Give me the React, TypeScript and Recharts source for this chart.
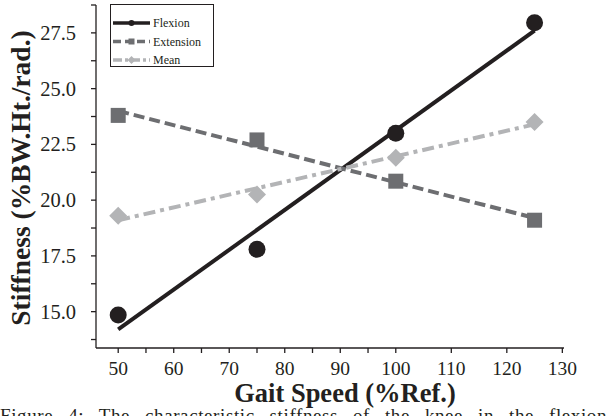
import { ComposedChart, Line, Scatter, XAxis, YAxis, Legend } from "recharts"

const speeds = [50, 75, 100, 125]
const flexion = [14.85, 17.8, 23.0, 27.95]
const extension = [23.8, 22.7, 20.85, 19.1]
const mean = [19.3, 20.25, 21.9, 23.5]

const fitSpeeds = [50, 125]
const flexionFit = [14.2, 27.6]
const extensionFit = [24.0, 19.2]
const meanFit = [19.1, 23.4]

const seriesNames = ["Flexion", "Extension", "Mean"]

const xTicks = [50, 55, 60, 65, 70, 75, 80, 85, 90, 95, 100, 105, 110, 115, 120, 125, 130]
const xLabels = [50, 60, 70, 80, 90, 100, 110, 120, 130]
const yTicks = [13.75, 15, 16.25, 17.5, 18.75, 20, 21.25, 22.5, 23.75, 25, 26.25, 27.5, 28.75]
const yLabels = [15, 17.5, 20, 22.5, 25, 27.5]

const FONT = '"Liberation Serif", "Times New Roman", serif'
const INK = "#231f20"
const C_FLEX = "#231f20"
const C_EXT = "#6d6e71"
const C_MEAN = "#b3b4b6"

const toPoints = (xs: number[], ys: number[]) => xs.map((x, i) => ({ x, y: ys[i] }))

const flexPts = toPoints(speeds, flexion)
const extPts = toPoints(speeds, extension)
const meanPts = toPoints(speeds, mean)
const flexFitPts = toPoints(fitSpeeds, flexionFit)
const extFitPts = toPoints(fitSpeeds, extensionFit)
const meanFitPts = toPoints(fitSpeeds, meanFit)

function CircleDot({ cx, cy }: any) {
  return <circle cx={cx} cy={cy} r={8.5} fill={C_FLEX} />
}

function SquareDot({ cx, cy }: any) {
  return <rect x={cx - 7.5} y={cy - 7.5} width={15} height={15} fill={C_EXT} />
}

function DiamondDot({ cx, cy }: any) {
  const r = 9
  return <polygon points={`${cx},${cy - r} ${cx + r},${cy} ${cx},${cy + r} ${cx - r},${cy}`} fill={C_MEAN} />
}

function XTick({ x, y, payload }: any) {
  if (!xLabels.includes(payload.value)) return null
  return (
    <text x={x} y={y + 19.5} textAnchor="middle" fontSize={19.5} fontFamily={FONT} fill={INK}>
      {payload.value}
    </text>
  )
}

function YTick({ x, y, payload }: any) {
  if (!yLabels.includes(payload.value)) return null
  return (
    <text x={x} y={y + 7} textAnchor="end" fontSize={20.5} fontFamily={FONT} fill={INK}>
      {payload.value.toFixed(1)}
    </text>
  )
}

function LegendBox() {
  const rows = [
    { color: C_FLEX, dash: undefined, mark: "circle" },
    { color: C_EXT, dash: "8 4", mark: "square" },
    { color: C_MEAN, dash: "9 3 3 3", mark: "diamond" },
  ]
  return (
    <svg width={104} height={63} style={{ display: "block" }}>
      <rect x={0.5} y={0.5} width={103} height={62} fill="#fff" stroke={INK} strokeWidth={1} />
      {rows.map((r, i) => {
        const cy = 19 + i * 18.5
        return (
          <g key={i}>
            <line x1={3} x2={40} y1={cy} y2={cy} stroke={r.color} strokeWidth={3.5} strokeDasharray={r.dash} />
            {r.mark === "circle" && <circle cx={21.5} cy={cy} r={3} fill={r.color} />}
            {r.mark === "square" && <rect x={18.5} y={cy - 3} width={6} height={6} fill={r.color} />}
            {r.mark === "diamond" && (
              <polygon points={`21.5,${cy - 4} 25.5,${cy} 21.5,${cy + 4} 17.5,${cy}`} fill={r.color} />
            )}
            <text x={43} y={cy + 4} fontSize={12} fontFamily={FONT} fill={INK}>
              {seriesNames[i]}
            </text>
          </g>
        )
      })}
    </svg>
  )
}

export default function App() {
  return (
    <div style={{ position: "fixed", left: 0, top: 0, width: 609, height: 416, overflow: "hidden", background: "#fff" }}>
      <ComposedChart width={609} height={416} margin={{ top: 5, right: 45, bottom: 38, left: 0 }}>
        <XAxis
          type="number"
          dataKey="x"
          domain={[46, 130.3]}
          ticks={xTicks}
          allowDataOverflow
          height={30}
          tickSize={5}
          tickMargin={2}
          tick={<XTick />}
          stroke={INK}
          strokeWidth={1.3}
          label={{
            content: () => (
              <text x={345} y={402} textAnchor="middle" fontSize={26.5} fontWeight="bold" fontFamily={FONT} fill={INK}>
                Gait Speed (%Ref.)
              </text>
            ),
          }}
        />
        <YAxis
          type="number"
          dataKey="y"
          domain={[13.37, 28.75]}
          ticks={yTicks}
          allowDataOverflow
          width={96}
          tickSize={5}
          tickMargin={15}
          tick={<YTick />}
          stroke={INK}
          strokeWidth={1.3}
          label={{
            content: () => (
              <text
                x={0}
                y={0}
                transform="translate(30,178) rotate(-90)"
                textAnchor="middle"
                fontSize={27.5}
                fontWeight="bold"
                fontFamily={FONT}
                fill={INK}
              >
                Stiffness (%BW.Ht./rad.)
              </text>
            ),
          }}
        />
        <Legend
          layout="horizontal"
          verticalAlign="middle"
          align="center"
          content={() => <LegendBox />}
          wrapperStyle={{ left: 110, top: 4, width: 104, height: 63 }}
        />
        <Line data={flexFitPts} dataKey="y" name="Flexion" stroke={C_FLEX} strokeWidth={4} dot={false} activeDot={false} isAnimationActive={false} legendType="none" />
        <Line data={extFitPts} dataKey="y" name="Extension" stroke={C_EXT} strokeWidth={4} strokeDasharray="11 5" dot={false} activeDot={false} isAnimationActive={false} legendType="none" />
        <Line data={meanFitPts} dataKey="y" name="Mean" stroke={C_MEAN} strokeWidth={4} strokeDasharray="12 5 4 5" dot={false} activeDot={false} isAnimationActive={false} legendType="none" />
        <Scatter data={flexPts} dataKey="y" shape={<CircleDot />} isAnimationActive={false} legendType="none" />
        <Scatter data={extPts} dataKey="y" shape={<SquareDot />} isAnimationActive={false} legendType="none" />
        <Scatter data={meanPts} dataKey="y" shape={<DiamondDot />} isAnimationActive={false} legendType="none" />
      </ComposedChart>
      <div
        style={{
          position: "absolute",
          left: 0,
          top: 406,
          width: 607,
          fontFamily: FONT,
          fontSize: 19,
          lineHeight: "20px",
          color: INK,
          textAlign: "justify",
          textAlignLast: "justify",
          whiteSpace: "nowrap",
          wordSpacing: 8,
          letterSpacing: 0.6,
        }}
      >
        Figure 4: The characteristic stiffness of the knee in the flexion
      </div>
    </div>
  )
}
